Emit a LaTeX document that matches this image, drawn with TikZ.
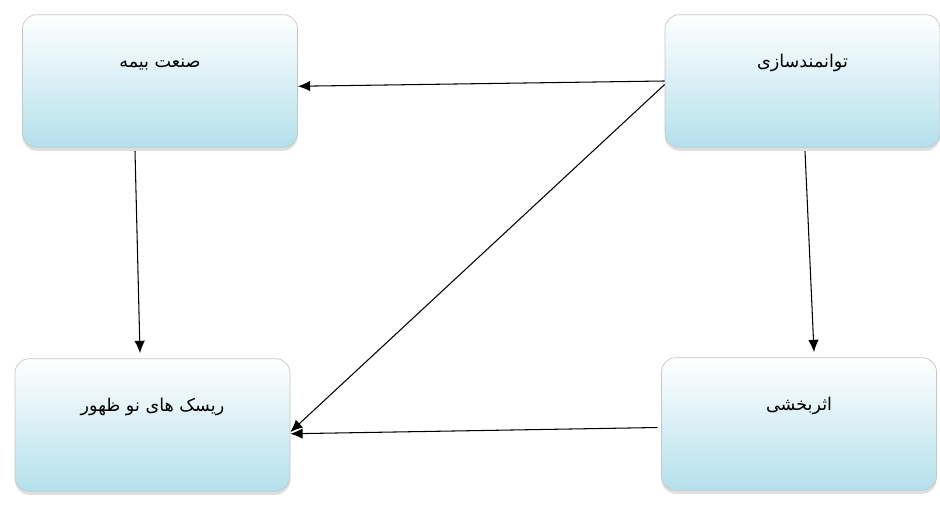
\documentclass[tikz,border=0pt]{standalone}
\usepackage{fontspec}
\usepackage{xcolor}
\usetikzlibrary{arrows.meta,positioning,shapes,calc,shadows}
\TeXXeTstate=1
\newfontfamily\farsifont[Script=Arabic]{DejaVu Sans}
\definecolor{boxblue}{RGB}{180,224,236}
\begin{document}
\begin{tikzpicture}[>={Latex[length=7pt,width=6pt]},line width=0.6pt,
    factor/.style={rounded corners=8pt,draw=gray!45,line width=0.4pt,top color=white,bottom color=boxblue,
      minimum width=5.5cm,minimum height=2.65cm,text height=0.3cm,text depth=0.85cm,
      font=\farsifont,drop shadow={shadow xshift=0pt,shadow yshift=-2pt,opacity=0.25}}]
    \useasboundingbox (0,0) rectangle (18.8,10.28);
    \node[factor] (bime) at (3.2,8.66) {\beginR صنعت بیمه\endR};
    \node[factor] (tavan) at (16.05,8.66) {\beginR توانمندسازی\endR};
    \node[factor] (risk) at (3.05,1.78) {\beginR ریسک های نو ظهور\endR};
    \node[factor] (asar) at (15.98,1.8) {\beginR اثربخشی\endR};
    \draw[->] (tavan.west)-- ([yshift=-3pt]bime.east);
    \draw[->] ([yshift=-2pt]tavan.west)-- ([yshift=-4pt]risk.east);
    \draw[->] ([xshift=-0.5cm,yshift=-2pt]bime.south)-- ([xshift=-0.25cm,yshift=3pt]risk.north);
    \draw[->] ([xshift=0.05cm,yshift=-2pt]tavan.south)-- ([xshift=0.3cm,yshift=3pt]asar.north);
    \draw[->] ([xshift=-2pt,yshift=-2pt]asar.west)-- ([yshift=-5pt]risk.east);
  \end{tikzpicture}
\end{document}
